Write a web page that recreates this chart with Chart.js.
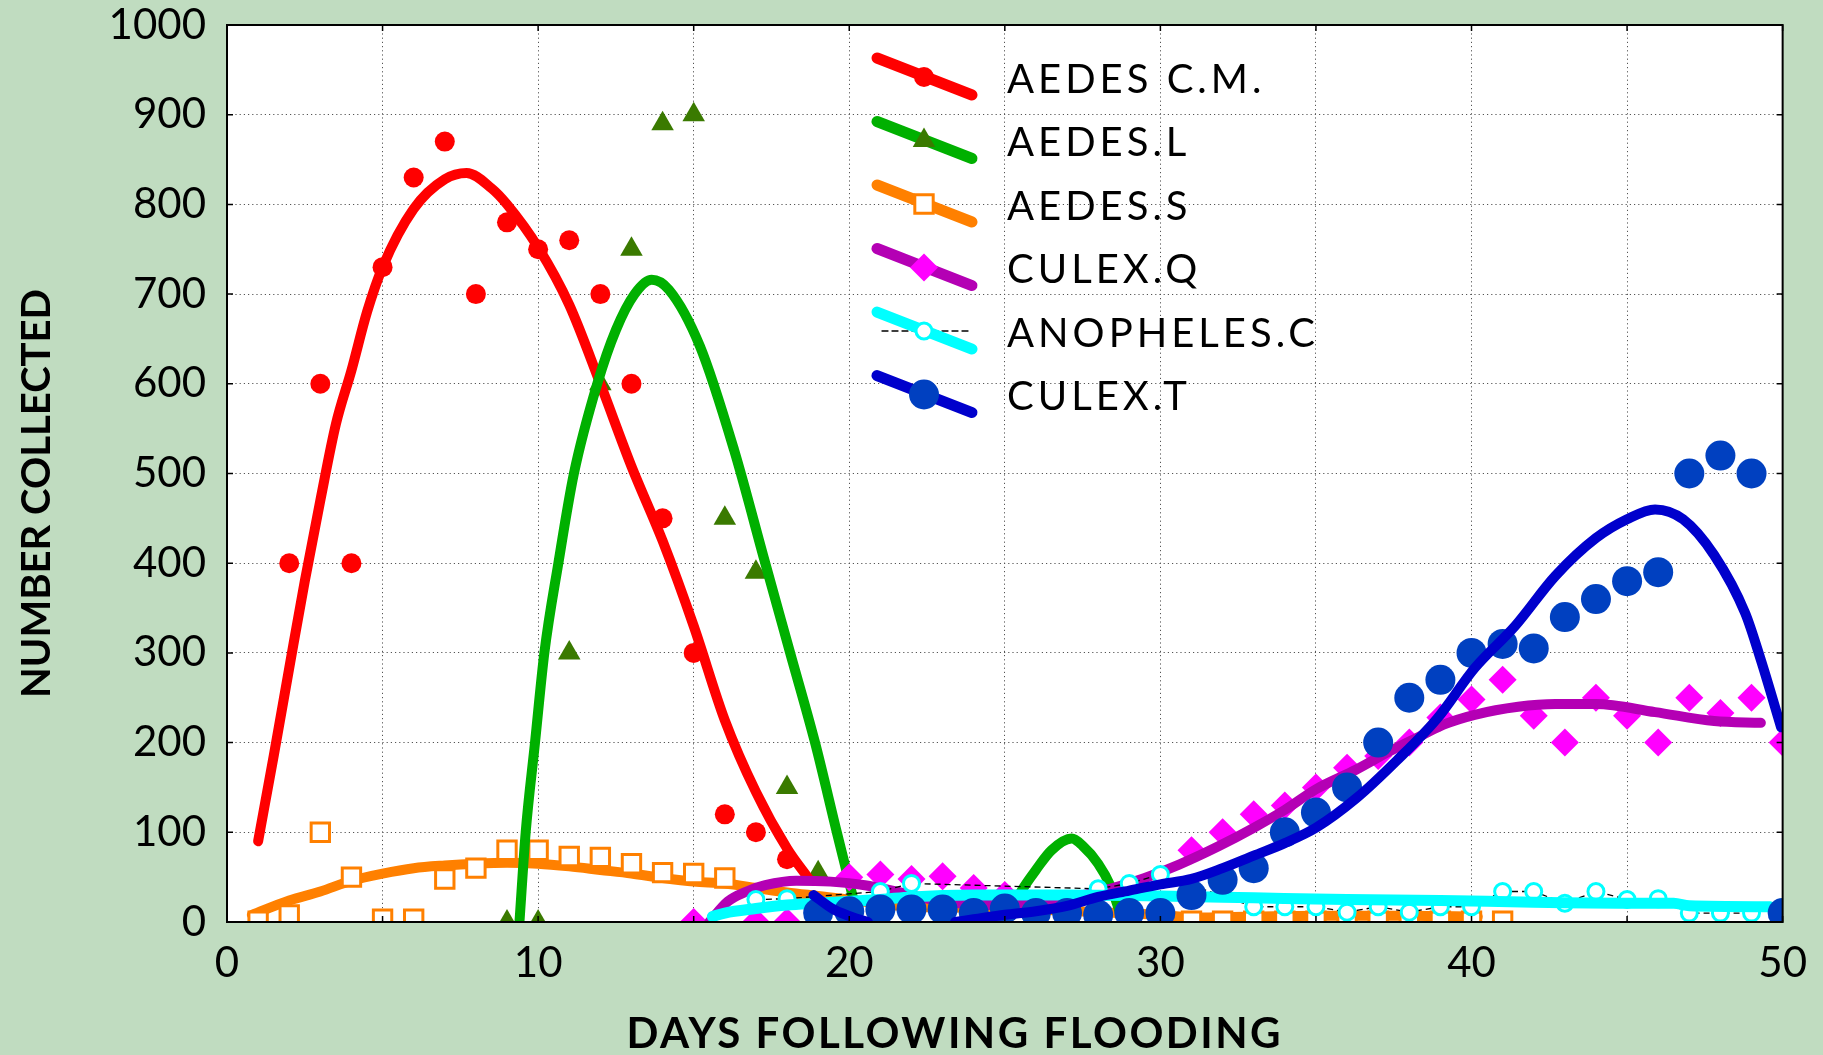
<!DOCTYPE html>
<html lang="en">
<head>
<meta charset="utf-8">
<title>Number collected after flooding</title>
<script src="https://cdn.jsdelivr.net/npm/chart.js@4.4.1/dist/chart.umd.min.js"></script>
<style>
    html, body { margin: 0; padding: 0; background: #c0dcc0; overflow: hidden; }
    canvas { display: block; }
</style>
</head>
<body>
<canvas id="graf" width="1823" height="1055"></canvas>
<script>
// ---- observed counts (markers) ----
const diasAedesCM = [2, 3, 4, 5, 6, 7, 8, 9, 10, 11, 12, 13, 14, 15, 16, 17, 18]
const aedesCM = [400, 600, 400, 730, 830, 870, 700, 780, 750, 760, 700, 600, 450, 300, 120, 100, 70]

const diasAedesL = [9, 10, 11, 12, 13, 14, 15, 16, 17, 18, 19]
const aedesL = [0, 0, 300, 600, 750, 890, 900, 450, 390, 150, 55]

const diasAedesS = [1, 2, 3, 4, 5, 6, 7, 8, 9, 10, 11, 12, 13, 14, 15, 16, 31, 32, 33, 34, 35, 36, 37, 38, 39, 40, 41]
const aedesS = [1, 8, 100, 50, 3, 3, 48, 60, 80, 80, 73, 72, 65, 55, 54, 49, 1, 1, 1, 1, 1, 1, 1, 1, 1, 1, 1]

const diasCulexQ = [15, 17, 18, 20, 21, 22, 23, 24, 25, 31, 32, 33, 34, 35, 36, 37, 38, 39, 40, 41, 42, 43, 44, 45, 46, 47, 48, 49, 50]
const culexQ = [0, 0, 0, 50, 53, 48, 51, 38, 30, 80, 100, 120, 130, 150, 172, 185, 200, 228, 248, 270, 230, 200, 250, 230, 200, 250, 233, 250, 200]

const diasAnoph = [17, 18, 21, 22, 28, 29, 30, 33, 34, 35, 36, 37, 38, 39, 40, 41, 42, 43, 44, 45, 46, 47, 48, 49]
const anoph = [25, 26, 34, 43, 37, 43, 53, 17, 17, 17, 11, 17, 11, 17, 17, 34, 34, 21, 34, 25, 26, 10, 10, 10]

const diasCulexT = [19, 20, 21, 22, 23, 24, 25, 26, 27, 28, 29, 30, 31, 32, 33, 34, 35, 36, 37, 38, 39, 40, 41, 42, 43, 44, 45, 46, 47, 48, 49, 50]
const culexT = [10, 12, 14, 14, 14, 10, 15, 10, 10, 8, 10, 10, 30, 47, 60, 100, 122, 150, 200, 250, 270, 300, 310, 305, 340, 360, 380, 390, 500, 520, 500, 10]

// ---- fitted curves (null = gap) ----
const diasCurvaCM = [1, 1.5, 2, 2.5, 3, 3.5, 4, 4.5, 5, 6, 7, 7.7, 8.5, 9, 10, 11, 12, 13, 14, 15, 16, 17, 18, 18.7]
const curvaCM = [90, 185, 283, 380, 470, 555, 615, 680, 730, 795, 828, 835, 818, 800, 752, 688, 600, 508, 425, 330, 225, 145, 82, 48]

const diasCurvaL = [9.4, 9.6, 9.9, 10.2, 10.65, 11.15, 11.9, 12.5, 13.1, 13.65, 14.2, 15.2, 16.3, 17.3, 18.1, 18.9, 19.6, 20.1, 20.3, 22, 25, 25.56, 26, 26.5, 27.15, 27.5, 28, 28.4, 28.8]
const curvaL = [0, 100, 200, 300, 400, 500, 600, 660, 700, 716, 705, 642, 526, 400, 300, 200, 100, 30, 0, null, 0, 36, 58, 80, 93, 85, 65, 40, 0]

const diasCurvaS = [0.8, 2, 3, 4, 5, 6, 7, 8, 9, 10, 11, 12, 13, 14, 15, 16, 17, 18, 19, 20, 21, 22, 24, 26, 28, 30, 31, 33, 35, 38, 40.2]
const curvaS = [8, 24, 34, 46, 54, 60, 63, 65, 66, 65, 62, 58, 54, 49, 45, 43, 38, 33, 29, 25, 20, 17, 16, 14, 11, 8, 5, 6, 7, 7, 6]

const diasCurvaQ = [15.5, 16.1, 16.7, 17.3, 18.3, 19.4, 20.5, 21.5, 22.5, 23.5, 24.5, 25.5, 26.5, 27.5, 28.5, 29.5, 30.6, 31.9, 33, 34, 35, 36.3, 37.35, 38.4, 39.1, 40.1, 41.5, 42.7, 44, 45.9, 47.8, 49.3]
const curvaQ = [0, 23, 34, 41, 46, 45, 41, 34, 26, 21, 19, 20, 24, 30, 38, 49, 64, 85, 105, 125, 148, 170, 190, 208, 220, 231, 240, 243, 243, 234, 224, 222]

const diasCurvaC = [15.6, 16, 17, 18, 19, 20, 21, 22, 24, 27, 30, 33, 36, 39, 42, 45, 46.5, 47, 49.6]
const curvaC = [6, 10, 15, 19, 21, 23, 25, 28, 30, 30, 29, 27, 25, 24, 22, 21, 21, 18, 17]

const diasCurvaT = [18.85, 19.5, 20.3, 20.6, 22, 23.4, 24, 25, 26, 27, 28, 29, 30, 31, 32, 33, 34, 35, 36.3, 37.6, 38.9, 40.1, 41.4, 42.7, 44, 45, 45.9, 46.8, 47.8, 48.8, 49.3, 49.95]
const curvaT = [30, 14, 3, 0, null, 0, 3, 8, 12, 18, 28, 35, 42, 48, 60, 74, 88, 105, 138, 180, 227, 283, 330, 386, 428, 449, 460, 449, 409, 344, 292, 217]

const nomes = ['AEDES C.M.', 'AEDES.L', 'AEDES.S', 'CULEX.Q', 'ANOPHELES.C', 'CULEX.T']
const ticksX = [0, 10, 20, 30, 40, 50]

const fonte = "'Century Gothic', Lato, sans-serif"

function pares(xs, ys) {
    let out = []
    for (let i = 0; i < xs.length; i++) out.push({ x: xs[i], y: ys[i] })
    return out
}

function curva(label, xs, ys, cor, largura, ordem) {
    return {
        label: label,
        data: pares(xs, ys),
        showLine: true,
        borderColor: cor,
        borderWidth: largura,
        borderCapStyle: 'round',
        borderJoinStyle: 'round',
        pointRadius: 0,
        cubicInterpolationMode: 'monotone',
        spanGaps: false,
        clip: 0,
        order: ordem
    }
}

function marcas(label, xs, ys, estilo, raio, fundo, borda, bordaLarg, ordem) {
    return {
        label: label,
        data: pares(xs, ys),
        showLine: false,
        pointStyle: estilo,
        pointRadius: raio,
        pointBackgroundColor: fundo,
        pointBorderColor: borda,
        pointBorderWidth: bordaLarg,
        clip: 0,
        order: ordem
    }
}

let anophPts = marcas('ANOPHELES.C', diasAnoph, anoph, 'circle', 8, '#ffffff', '#00ffff', 3, 4)
anophPts.showLine = true
anophPts.borderColor = '#000000'
anophPts.borderWidth = 1.3
anophPts.borderDash = [6, 4]

const datasets = [
    curva('AEDES C.M. fit', diasCurvaCM, curvaCM, '#ff0000', 10, 8),
    marcas('AEDES C.M.', diasAedesCM, aedesCM, 'circle', 10, '#ff0000', '#ff0000', 0, 9),
    curva('AEDES.L fit', diasCurvaL, curvaL, '#00b000', 10, 7),
    marcas('AEDES.L', diasAedesL, aedesL, 'triangle', 13, '#3a7a00', '#3a7a00', 0, 10),
    curva('AEDES.S fit', diasCurvaS, curvaS, '#ff8000', 10, 12),
    marcas('AEDES.S', diasAedesS, aedesS, 'rect', 13, '#ffffff', '#ff8000', 3, 11),
    curva('CULEX.Q fit', diasCurvaQ, curvaQ, '#b400b4', 10, 5),
    marcas('CULEX.Q', diasCulexQ, culexQ, 'rectRot', 14, '#ff00ff', '#ff00ff', 0, 6),
    curva('ANOPHELES.C fit', diasCurvaC, curvaC, '#00ffff', 11, 3),
    anophPts,
    curva('CULEX.T fit', diasCurvaT, curvaT, '#0000cc', 10, 1),
    marcas('CULEX.T', diasCulexT, culexT, 'circle', 15, '#0040c0', '#0040c0', 0, 2)
]

// green page + white plot area
const fundo = {
    id: 'fundo',
    beforeDraw(chart) {
        const { ctx, chartArea: a } = chart
        ctx.save()
        ctx.fillStyle = '#c0dcc0'
        ctx.fillRect(0, 0, chart.width, chart.height)
        ctx.fillStyle = '#ffffff'
        ctx.fillRect(a.left, a.top, a.right - a.left, a.bottom - a.top)
        ctx.restore()
    }
}

// black frame with inward tick marks
const moldura = {
    id: 'moldura',
    afterDatasetsDraw(chart) {
        const { ctx, chartArea: a, scales } = chart
        ctx.save()
        ctx.strokeStyle = '#000'
        ctx.lineWidth = 1.5
        ctx.beginPath()
        scales.x.ticks.forEach(t => {
            const px = scales.x.getPixelForValue(t.value)
            ctx.moveTo(px, a.bottom); ctx.lineTo(px, a.bottom - 6)
            ctx.moveTo(px, a.top); ctx.lineTo(px, a.top + 6)
        })
        scales.y.ticks.forEach(t => {
            const py = scales.y.getPixelForValue(t.value)
            ctx.moveTo(a.left, py); ctx.lineTo(a.left + 6, py)
            ctx.moveTo(a.right, py); ctx.lineTo(a.right - 6, py)
        })
        ctx.stroke()
        ctx.lineWidth = 2
        ctx.strokeRect(a.left, a.top, a.right - a.left, a.bottom - a.top)
        ctx.restore()
    }
}

// legend inside the plot: slanted line + marker, like the original
const legendaDentro = {
    id: 'legendaDentro',
    afterDatasetsDraw(chart) {
        const { ctx, chartArea: a } = chart
        const x0 = a.left + 650
        const xTexto = a.left + 780
        ctx.save()
        for (let i = 0; i < nomes.length; i++) {
            const linha = chart.data.datasets.find(d => d.label === nomes[i] + ' fit')
            const marca = chart.data.datasets.find(d => d.label === nomes[i])
            const yc = a.top + 52 + i * 63.5
            if (marca.showLine) {
                ctx.strokeStyle = marca.borderColor
                ctx.lineWidth = marca.borderWidth
                ctx.setLineDash(marca.borderDash)
                ctx.beginPath()
                ctx.moveTo(x0 + 5, yc)
                ctx.lineTo(x0 + 92, yc)
                ctx.stroke()
                ctx.setLineDash([])
            }
            ctx.strokeStyle = linha.borderColor
            ctx.lineWidth = 11
            ctx.lineCap = 'round'
            ctx.beginPath()
            ctx.moveTo(x0, yc - 19)
            ctx.lineTo(x0 + 95, yc + 18)
            ctx.stroke()
            ctx.fillStyle = marca.pointBackgroundColor
            ctx.strokeStyle = marca.pointBorderColor
            ctx.lineWidth = marca.pointBorderWidth
            Chart.helpers.drawPoint(ctx, {
                pointStyle: marca.pointStyle,
                radius: marca.pointRadius,
                borderWidth: marca.pointBorderWidth,
                rotation: 0
            }, x0 + 47, yc)
            ctx.fillStyle = '#000'
            ctx.font = '40px ' + fonte
            ctx.letterSpacing = '4px'
            ctx.textBaseline = 'middle'
            ctx.textAlign = 'left'
            ctx.fillText(nomes[i], xTexto, yc + 3)
        }
        ctx.restore()
    }
}

// axis titles
const titulos = {
    id: 'titulos',
    afterDraw(chart) {
        const { ctx, chartArea: a } = chart
        ctx.save()
        ctx.fillStyle = '#000'
        ctx.textAlign = 'center'
        ctx.textBaseline = 'middle'
        ctx.font = 'bold 42px ' + fonte
        ctx.letterSpacing = '2.5px'
        ctx.fillText('DAYS FOLLOWING FLOODING', (a.left + a.right) / 2 - 50, a.bottom + 112)
        ctx.font = 'bold 40px ' + fonte
        ctx.letterSpacing = '0px'
        ctx.translate(37, (a.top + a.bottom) / 2 + 20)
        ctx.rotate(-Math.PI / 2)
        ctx.fillText('NUMBER COLLECTED', 0, 0)
        ctx.restore()
    }
}

Chart.defaults.font.family = fonte
Chart.defaults.color = '#000'

const ctx = document.getElementById('graf').getContext('2d')

const config = {
    type: 'scatter',
    data: { datasets: datasets },
    options: {
        responsive: false,
        animation: false,
        devicePixelRatio: 1,
        events: [],
        layout: { padding: { top: 25, right: 38, left: 0, bottom: 0 } },
        plugins: {
            legend: { display: false },
            tooltip: { enabled: false },
            title: { display: false }
        },
        scales: {
            x: {
                type: 'linear',
                min: 0,
                max: 50,
                afterFit: (s) => { s.height = 133 },
                ticks: {
                    stepSize: 5,
                    autoSkip: false,
                    maxRotation: 0,
                    padding: 16,
                    font: { size: 42 },
                    callback: (v) => ticksX.includes(v) ? String(v) : ''
                },
                grid: { color: '#555', lineWidth: 1, drawTicks: false },
                border: { display: false, dash: [1.2, 3] }
            },
            y: {
                min: 0,
                max: 1000,
                afterFit: (s) => {
                    s.width = 227
                    s.paddingTop = 0
                    s.paddingBottom = 0
                },
                ticks: {
                    stepSize: 100,
                    padding: 21,
                    font: { size: 42 },
                    callback: (v) => String(v)
                },
                grid: { color: '#555', lineWidth: 1, drawTicks: false },
                border: { display: false, dash: [1.2, 3] }
            }
        }
    },
    plugins: [fundo, moldura, legendaDentro, titulos]
}

let meuGrafico = new Chart(ctx, config)
</script>
</body>
</html>
